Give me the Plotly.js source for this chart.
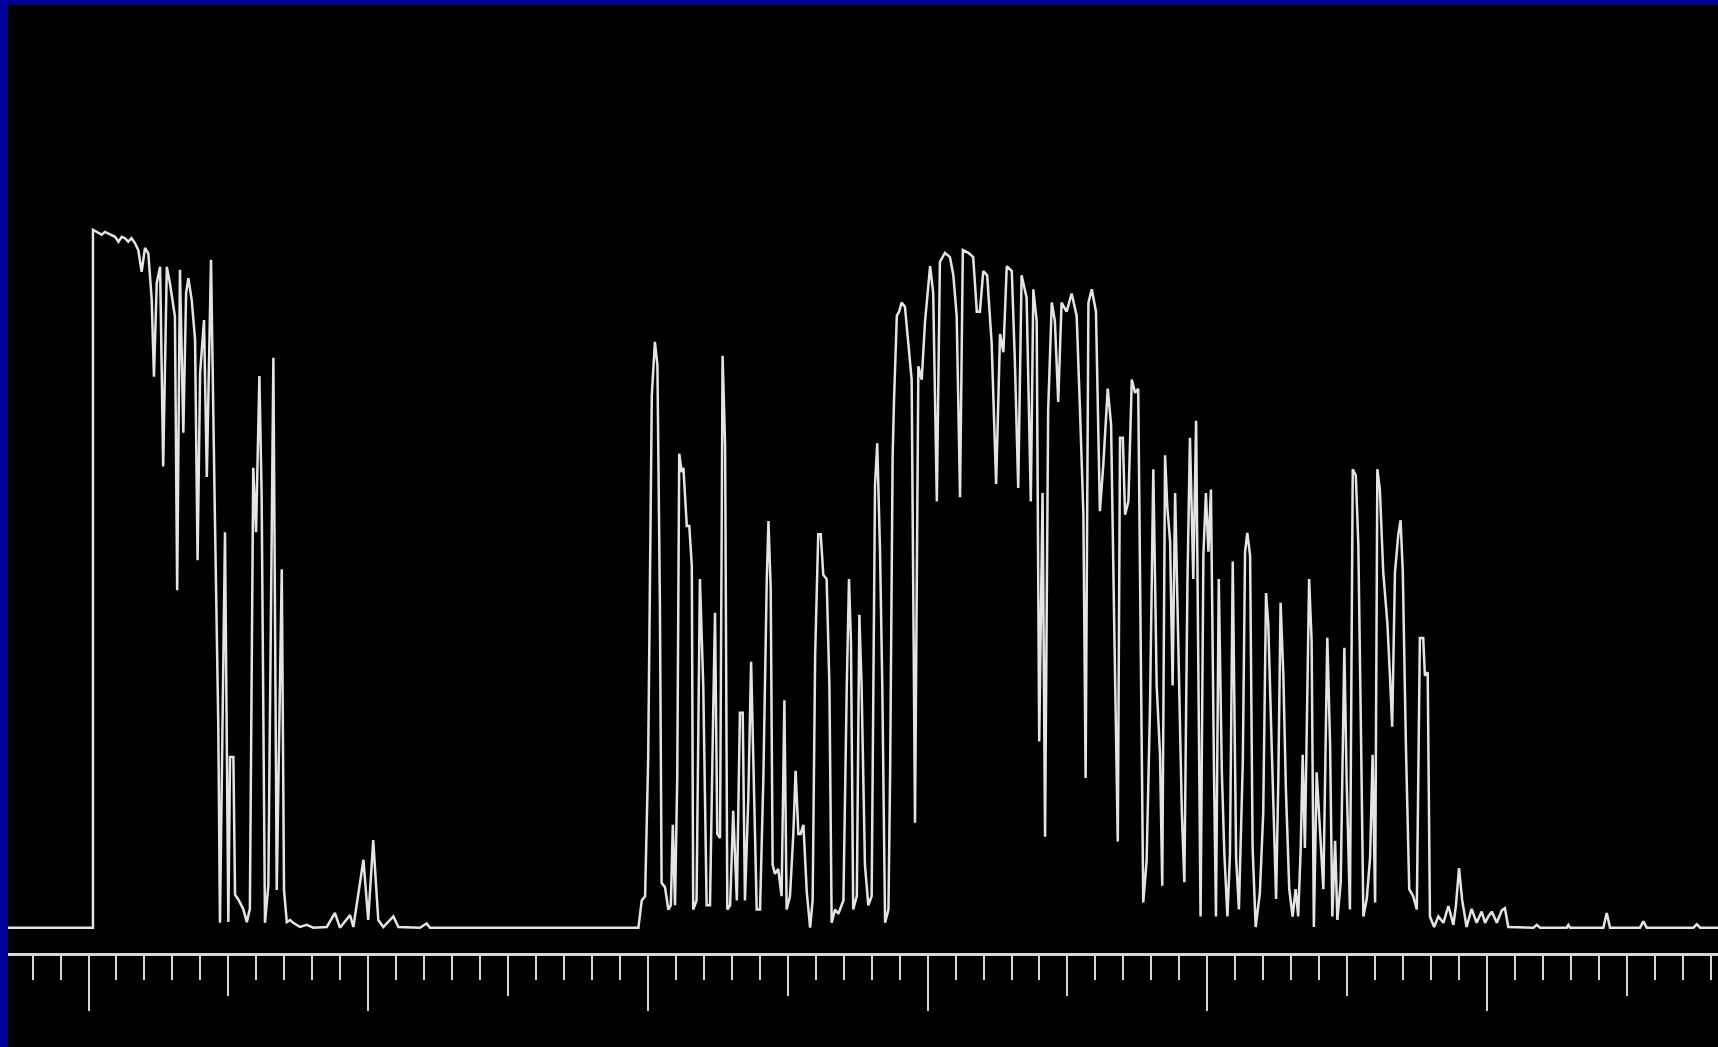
<!DOCTYPE html>
<html>
<head>
<meta charset="utf-8">
<script src="https://cdn.plot.ly/plotly-3.0.1.min.js"></script>
<style>
  html, body { margin: 0; padding: 0; width: 1718px; height: 1047px; overflow: hidden; background: #00009c; }
  #chart { position: absolute; left: 8px; top: 5px; width: 1710px; height: 1042px; background: #000; }
</style>
</head>
<body>
<div id="chart"></div>
<script>
// Spectral position (axis units: long tick = 1, medium tick = 0.5, short tick = 0.1)
const wavelength = [
  0.700, 1.016, 1.016, 1.035, 1.047, 1.059, 1.077, 1.095, 1.107, 1.119, 1.130, 1.142, 1.154, 1.166, 1.178, 1.190,
  1.202, 1.214, 1.226, 1.234, 1.244, 1.256, 1.267, 1.280, 1.291, 1.309, 1.317, 1.327, 1.339, 1.349, 1.357, 1.369,
  1.381, 1.390, 1.399, 1.413, 1.423, 1.438, 1.452, 1.464, 1.470, 1.488, 1.500, 1.506, 1.518, 1.524, 1.536, 1.553,
  1.566, 1.577, 1.589, 1.599, 1.611, 1.619, 1.631, 1.643, 1.661, 1.673, 1.691, 1.699, 1.709, 1.721, 1.732, 1.756,
  1.780, 1.804, 1.852, 1.881, 1.899, 1.935, 1.947, 1.983, 2.000, 2.018, 2.036, 2.054, 2.090, 2.108, 2.185, 2.209,
  2.221,
  2.966, 2.978, 2.990, 3.001, 3.014, 3.025, 3.034, 3.043, 3.049, 3.061, 3.073, 3.082, 3.089, 3.097, 3.105, 3.112,
  3.121, 3.127, 3.139, 3.148, 3.157, 3.162, 3.174, 3.186, 3.198, 3.210, 3.222, 3.234, 3.240, 3.248, 3.258, 3.267,
  3.276, 3.284, 3.294, 3.305, 3.318, 3.329, 3.339, 3.347, 3.359, 3.369, 3.379, 3.389, 3.401, 3.413, 3.425, 3.431,
  3.439, 3.446, 3.454, 3.466, 3.478, 3.488, 3.496, 3.508, 3.520, 3.528, 3.538, 3.546, 3.556, 3.568, 3.580, 3.589,
  3.598, 3.609, 3.618, 3.627, 3.639, 3.649, 3.657, 3.669, 3.681, 3.699, 3.711, 3.719, 3.726, 3.734, 3.747, 3.756,
  3.764, 3.776, 3.788, 3.800, 3.812, 3.820, 3.830, 3.838, 3.848, 3.860, 3.866, 3.875, 3.880, 3.890, 3.899, 3.907,
  3.919, 3.931, 3.943, 3.955, 3.967, 3.979, 3.991, 4.009, 4.020, 4.033, 4.044, 4.062, 4.080, 4.092, 4.104, 4.116,
  4.126, 4.146, 4.163, 4.176, 4.187, 4.199, 4.213, 4.229, 4.245, 4.259, 4.271, 4.283, 4.301, 4.312, 4.324, 4.336,
  4.354, 4.369, 4.378, 4.390, 4.399, 4.411, 4.420, 4.431, 4.444, 4.455, 4.467, 4.479, 4.497, 4.515, 4.533, 4.545,
  4.557, 4.565, 4.575, 4.587, 4.602, 4.616, 4.628, 4.644, 4.656, 4.668, 4.680, 4.688, 4.698, 4.706, 4.718, 4.730,
  4.742, 4.753, 4.766, 4.771, 4.783, 4.795, 4.807, 4.819, 4.831, 4.839, 4.849, 4.857, 4.867, 4.876, 4.885, 4.896,
  4.909, 4.918, 4.929, 4.938, 4.950, 4.960, 4.968, 4.976, 4.986, 4.995, 5.004, 5.013, 5.024, 5.031, 5.041, 5.052,
  5.061, 5.072, 5.081, 5.091, 5.103, 5.113, 5.127, 5.135, 5.143, 5.153, 5.162, 5.173, 5.188, 5.200, 5.210, 5.218,
  5.230, 5.246, 5.254, 5.262, 5.272, 5.281, 5.293, 5.305, 5.316, 5.325, 5.334, 5.341, 5.349, 5.364, 5.373, 5.381,
  5.391, 5.403, 5.415, 5.429, 5.439, 5.447, 5.457, 5.465, 5.477, 5.490, 5.498, 5.510, 5.520, 5.531, 5.540, 5.550,
  5.558, 5.570, 5.582, 5.591, 5.600, 5.608, 5.617, 5.629, 5.644, 5.653, 5.661, 5.671, 5.683, 5.691, 5.699, 5.710,
  5.722, 5.736, 5.749, 5.760, 5.772, 5.778, 5.788, 5.796, 5.811, 5.826, 5.844, 5.862, 5.880, 5.889, 5.900, 5.911,
  5.927, 5.945, 5.963, 5.981, 5.993, 6.005, 6.017, 6.035, 6.053, 6.064, 6.076, 6.166, 6.178, 6.190, 6.285, 6.291,
  6.297, 6.416, 6.428, 6.440, 6.547, 6.559, 6.571, 6.738, 6.750, 6.762, 6.840
];

// Transmission (%), same order as wavelength
const transmission = [
  0, 0, 99.7, 99.2, 99.0, 99.4, 99.0, 98.7, 98.0, 98.7, 98.5, 98.0, 98.5, 97.8, 96.8, 93.7,
  97.1, 96.3, 89.7, 78.7, 92.1, 94.4, 65.9, 94.4, 92.1, 87.3, 48.2, 94.0, 70.7, 90.7, 92.8, 89.7,
  84.0, 52.5, 79.2, 86.8, 64.4, 95.4, 58.5, 29.0, 0.7, 56.5, 0.8, 24.4, 24.4, 4.7, 4.0, 2.7,
  0.8, 2.7, 65.7, 56.5, 78.8, 61.8, 0.7, 6.0, 81.4, 5.4, 51.2, 5.4, 0.8, 1.1, 0.7, 0.1,
  0.4, 0, 0.1, 2.1, 0, 1.8, 0.1, 9.7, 1.1, 12.5, 1.1, 0.1, 1.6, 0.1, 0, 0.6,
  0,
  0, 3.9, 4.5, 24.2, 76.0, 83.7, 80.4, 46.0, 6.4, 5.8, 2.6, 3.2, 14.7, 3.2, 21.7, 67.7,
  65.1, 65.7, 57.4, 57.4, 51.7, 2.6, 3.9, 49.8, 34.5, 3.2, 3.2, 32.0, 45.0, 13.4, 12.8, 81.7,
  69.0, 2.6, 3.2, 16.7, 3.9, 30.7, 30.7, 3.9, 18.5, 38.0, 18.5, 2.6, 2.6, 21.7, 49.8, 58.1,
  48.5, 9.0, 7.7, 8.4, 4.5, 32.5, 2.6, 4.5, 13.4, 22.4, 13.4, 13.4, 14.7, 5.1, 0, 3.9,
  39.0, 56.2, 56.2, 50.4, 49.8, 34.5, 0.7, 2.6, 2.0, 3.9, 34.5, 49.8, 40.8, 2.6, 4.5, 44.7,
  34.5, 9.0, 3.2, 4.5, 63.2, 69.2, 53.6, 34.5, 0.7, 2.6, 22.0, 67.3, 75.3, 87.4, 88.1, 89.3,
  88.7, 83.5, 78.3, 15.0, 80.2, 78.3, 86.7, 94.5, 90.7, 60.9, 95.1, 96.4, 95.8, 93.2, 87.4, 61.5,
  96.8, 96.4, 95.8, 88.0, 88.0, 93.8, 93.2, 83.5, 63.4, 84.8, 82.2, 94.5, 93.8, 81.0, 62.8, 93.2,
  90.0, 60.9, 91.2, 86.7, 26.6, 62.1, 13.0, 73.8, 89.3, 86.7, 75.1, 89.3, 88.0, 90.6, 87.4, 73.8,
  59.0, 21.4, 89.3, 91.2, 88.0, 59.5, 66.0, 77.0, 71.9, 41.4, 12.3, 70.0, 70.0, 59.0, 60.9, 78.3,
  76.4, 77.0, 22.0, 3.6, 9.5, 31.1, 65.5, 34.6, 24.7, 6.0, 67.5, 60.1, 55.2, 34.6, 62.1, 41.0,
  16.4, 6.5, 49.3, 70.0, 49.8, 72.4, 38.5, 1.6, 53.2, 62.1, 53.7, 62.6, 22.2, 1.6, 49.8, 22.2,
  10.5, 1.6, 10.5, 52.3, 10.0, 2.6, 23.7, 53.7, 56.4, 53.2, 11.4, 0.1, 5.0, 16.4, 47.8, 43.4,
  26.2, 4.1, 21.3, 46.4, 36.0, 19.8, 5.5, 1.6, 5.5, 1.6, 11.4, 24.7, 11.4, 49.8, 41.0, 0.1,
  22.2, 13.9, 5.5, 41.4, 26.2, 1.6, 12.4, 1.1, 6.5, 40.0, 21.3, 2.6, 65.5, 64.6, 54.7, 26.2,
  1.6, 4.1, 10.0, 24.7, 3.6, 65.5, 62.6, 50.8, 43.4, 36.0, 28.7, 50.8, 56.2, 58.2, 50.8, 26.2,
  5.5, 4.5, 2.6, 41.4, 41.4, 36.0, 36.5, 1.6, 0.1, 1.6, 0.7, 3.1, 0.4, 3.2, 8.5, 4.0,
  0.1, 2.7, 0.7, 2.3, 0.7, 1.6, 2.3, 0.7, 2.5, 2.8, 0.1, 0, 0.4, 0, 0, 0.4,
  0, 0, 2.1, 0, 0, 0.9, 0, 0, 0.5, 0, 0
];

const xRange = [0.7122, 6.8259];
const yRange = [-3.614, 131.81];
const axisColor = '#d6d6d6';

const traces = [
  {
    type: 'scatter', mode: 'lines',
    x: wavelength, y: transmission,
    line: { color: '#e4e4e4', width: 2.5 },
    hoverinfo: 'skip', showlegend: false
  },
  {
    type: 'scatter', mode: 'lines', x: [], y: [], xaxis: 'x2', yaxis: 'y',
    hoverinfo: 'skip', showlegend: false
  }
];

const layout = {
  width: 1710, height: 1042,
  margin: { l: 0, r: 0, t: 0, b: 94, pad: 0 },
  paper_bgcolor: '#000000', plot_bgcolor: '#000000',
  showlegend: false,
  xaxis: {
    range: xRange, showgrid: false, zeroline: false,
    showline: true, linecolor: axisColor, linewidth: 2.5,
    ticks: 'outside', tick0: 1, dtick: 0.5, ticklen: 40, tickwidth: 2, tickcolor: axisColor,
    showticklabels: false,
    minor: { ticks: 'outside', tick0: 1, dtick: 0.1, ticklen: 24, tickwidth: 2, tickcolor: axisColor, showgrid: false },
    fixedrange: true
  },
  xaxis2: {
    overlaying: 'x', anchor: 'y', side: 'bottom',
    range: xRange, showgrid: false, zeroline: false, showline: false,
    ticks: 'outside', tick0: 1, dtick: 1, ticklen: 57, tickwidth: 2, tickcolor: axisColor,
    showticklabels: false, fixedrange: true
  },
  yaxis: { range: yRange, visible: false, showgrid: false, zeroline: false, fixedrange: true }
};

Plotly.newPlot('chart', traces, layout, { staticPlot: true, displayModeBar: false });
</script>
</body>
</html>
